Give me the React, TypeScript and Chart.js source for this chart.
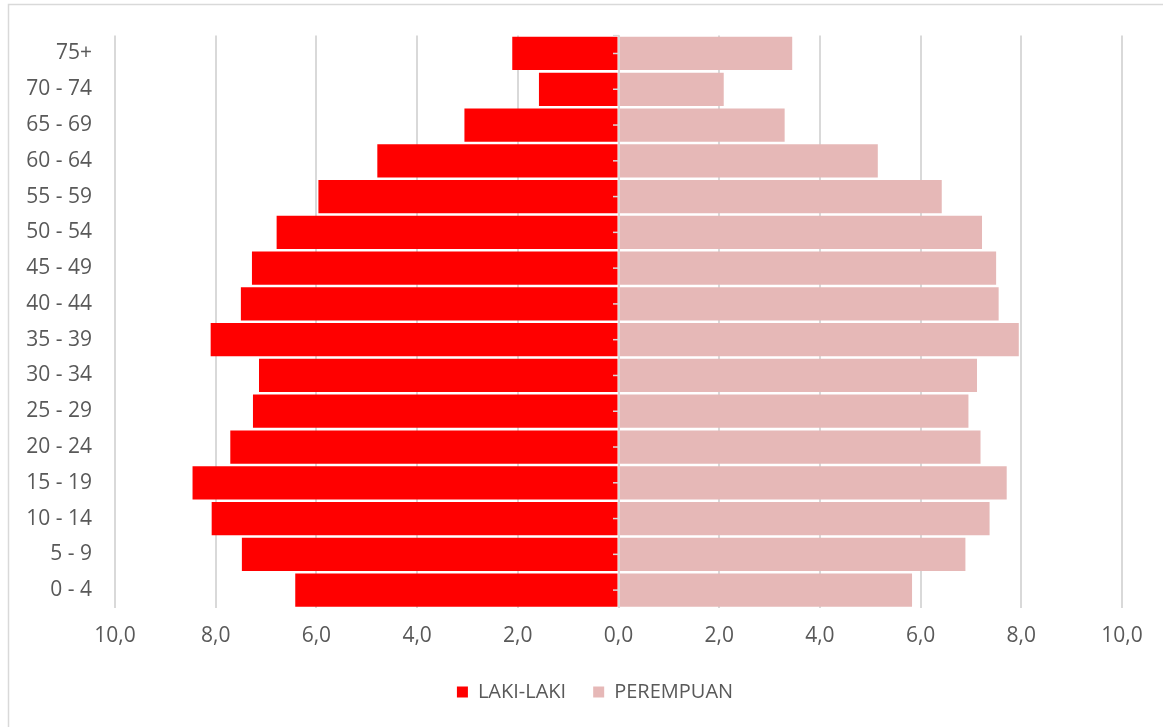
import React, { useEffect, useRef } from "react";
import { Chart, registerables } from "chart.js";

Chart.register(...registerables);

const AGE_GROUPS = [
  "0 - 4", "5 - 9", "10 - 14", "15 - 19", "20 - 24", "25 - 29", "30 - 34", "35 - 39",
  "40 - 44", "45 - 49", "50 - 54", "55 - 59", "60 - 64", "65 - 69", "70 - 74", "75+",
];
const LAKI_LAKI = [6.42, 7.48, 8.08, 8.46, 7.71, 7.26, 7.14, 8.1, 7.5, 7.28, 6.79, 5.96, 4.79, 3.06, 1.58, 2.11];
const PEREMPUAN = [5.83, 6.89, 7.37, 7.71, 7.19, 6.95, 7.12, 7.95, 7.55, 7.5, 7.22, 6.42, 5.15, 3.3, 2.09, 3.45];
const SERIES_NAMES = ["LAKI-LAKI", "PEREMPUAN"];
const X_MIN = -10;
const X_MAX = 10;
const X_STEP = 2;

const TEXT = "#595959";
const GRID = "#d9d9d9";
const FONT = "'Open Sans', 'DejaVu Sans', sans-serif";

const framePlugin = {
  id: "frame",
  beforeDraw(chart: any) {
    const ctx = chart.ctx;
    ctx.save();
    ctx.fillStyle = "#ffffff";
    ctx.fillRect(0, 0, chart.width, chart.height);
    ctx.strokeStyle = GRID;
    ctx.lineWidth = 1.5;
    ctx.strokeRect(8.5, 4.5, chart.width + 50, chart.height + 50);
    ctx.restore();
  },
};

const legendShiftPlugin = {
  id: "legendShift",
  afterLayout(chart: any) {
    const lg = chart.legend;
    if (lg) {
      lg.left += 34;
      lg.right += 34;
    }
  },
};

const centerAxisPlugin = {
  id: "centerAxis",
  afterDatasetsDraw(chart: any) {
    const ctx = chart.ctx;
    const xs = chart.scales.x;
    const ys = chart.scales.y;
    const x0 = Math.round(xs.getPixelForValue(0));
    const { top, bottom } = chart.chartArea;
    ctx.save();
    ctx.strokeStyle = GRID;
    ctx.lineWidth = 2;
    ctx.beginPath();
    ctx.moveTo(x0, top);
    ctx.lineTo(x0, bottom);
    ctx.stroke();
    ctx.lineWidth = 1.5;
    const marks: number[] = [top];
    for (let i = 0; i < AGE_GROUPS.length; i++) marks.push(ys.getPixelForValue(i));
    marks.forEach((y) => {
      ctx.beginPath();
      ctx.moveTo(x0 - 6, y);
      ctx.lineTo(x0, y);
      ctx.stroke();
    });
    ctx.restore();
  },
};

export default function App() {
  const ref = useRef<HTMLCanvasElement | null>(null);

  useEffect(() => {
    if (!ref.current) return;
    const chart = new Chart(ref.current, {
      type: "bar",
      data: {
        labels: AGE_GROUPS,
        datasets: [
          {
            label: SERIES_NAMES[0],
            data: LAKI_LAKI.map((v) => -v),
            backgroundColor: "#ff0000",
            barPercentage: 0.93,
            categoryPercentage: 1,
          },
          {
            label: SERIES_NAMES[1],
            data: PEREMPUAN,
            backgroundColor: "#e6b8b7",
            barPercentage: 0.93,
            categoryPercentage: 1,
          },
        ],
      },
      options: {
        indexAxis: "y",
        responsive: false,
        animation: false,
        devicePixelRatio: 1,
        layout: { padding: { top: 34, right: 41, bottom: 15, left: 0 } },
        scales: {
          x: {
            stacked: true,
            min: X_MIN,
            max: X_MAX,
            ticks: {
              stepSize: X_STEP,
              color: TEXT,
              font: { family: FONT, size: 21 },
              padding: 15,
              callback: (v: any) => Math.abs(Number(v)).toFixed(1).replace(".", ","),
            },
            grid: { color: GRID, lineWidth: 2, drawTicks: false },
            border: { display: false },
            afterFit: (s: any) => {
              s.height = 47;
            },
          },
          y: {
            stacked: true,
            reverse: true,
            ticks: {
              color: TEXT,
              font: { family: FONT, size: 21 },
              padding: 23,
            },
            grid: { display: false, drawTicks: false },
            border: { display: false },
            afterFit: (s: any) => {
              s.width = 115;
            },
          },
        },
        plugins: {
          legend: {
            position: "bottom",
            labels: {
              boxWidth: 11,
              boxHeight: 11,
              padding: 27,
              color: TEXT,
              font: { family: FONT, size: 20 },
            },
          },
          tooltip: { enabled: false },
        },
      },
      plugins: [framePlugin, legendShiftPlugin, centerAxisPlugin],
    });
    return () => chart.destroy();
  }, []);

  return (
    <div style={{ position: "fixed", left: 0, top: 0, width: 1163, height: 727 }}>
      <canvas ref={ref} width={1163} height={727} style={{ display: "block" }} />
    </div>
  );
}
